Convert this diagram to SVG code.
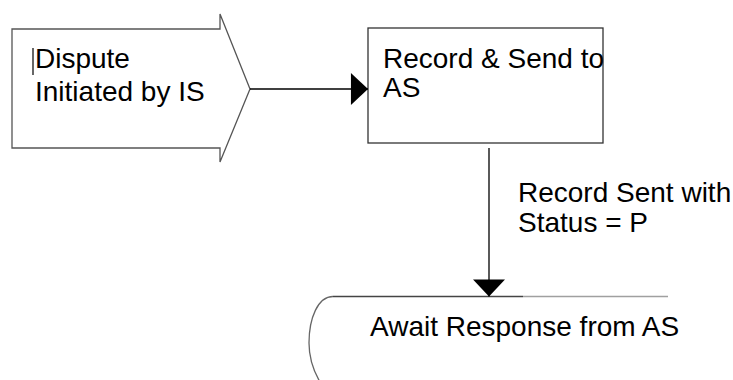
<svg xmlns="http://www.w3.org/2000/svg" width="733" height="380" viewBox="0 0 733 380">
<defs>
<style>
.lbl{font-family:"Liberation Sans",Arial,sans-serif;font-size:28px;fill:#000}
.shape{fill:#fff;stroke:#333;stroke-width:1.3}
.conn{stroke:#000;stroke-width:1.3;fill:none}
</style>
<marker id="ah" markerUnits="userSpaceOnUse" markerWidth="18" markerHeight="32" refX="16" refY="15" orient="auto" viewBox="0 0 16 30">
<path d="M0,0 L16,15 L0,30 Z" fill="#000"/>
</marker>
</defs>
<rect width="733" height="380" fill="#fff"/>
<g id="n1">
<polygon class="shape" points="12,29 220,29 220,14 250,89 220,162 220,148 12,148" style="stroke:#555"/>
<line x1="33" y1="48" x2="33" y2="75" stroke="#000" stroke-width="1.2"/>
<text class="lbl" x="35" y="68">Dispute</text>
<text class="lbl" x="35" y="101">Initiated by IS</text>
</g>
<g id="n2">
<rect class="shape" x="368" y="28" width="235" height="115"/>
<text class="lbl" x="383" y="68">Record &amp; Send to</text>
<text class="lbl" x="383" y="97">AS</text>
</g>
<g id="n3">
<path d="M333,296.5 C318,296.5 309,318 309,343 C309,358 313,370 320,382" fill="none" stroke="#666" stroke-width="1.3"/>
<line x1="333" y1="296.5" x2="523" y2="296.5" stroke="#444" stroke-width="1.3"/>
<line x1="523" y1="296.5" x2="668" y2="296.5" stroke="#a0a0a0" stroke-width="1.3"/>
<text class="lbl" x="370" y="336">Await Response from AS</text>
</g>
<g id="connectors">
<line class="conn" x1="250" y1="89" x2="368" y2="89" marker-end="url(#ah)"/>
<line class="conn" x1="489" y1="148" x2="489" y2="296.5" marker-end="url(#ah)"/>
<text class="lbl" x="518" y="202">Record Sent with</text>
<text class="lbl" x="518" y="232">Status = P</text>
</g>
</svg>
